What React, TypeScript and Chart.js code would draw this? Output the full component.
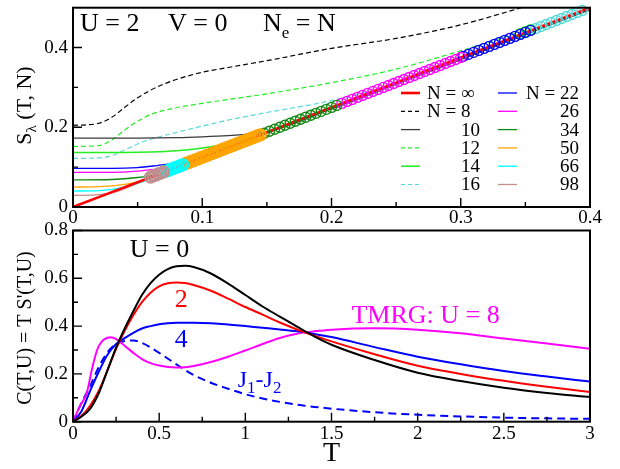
import React, { useEffect, useRef } from "react";
import { Chart, registerables } from "chart.js";
Chart.register(...registerables);

const SERIF = "'Liberation Serif', 'Times New Roman', Times, serif";

// ---------------- top panel : S_lambda(T, N) ----------------
const TOP_X_TICKS = [0, 0.1, 0.2, 0.3, 0.4];
const TOP_X_MINOR = [0.05, 0.15, 0.25, 0.35];
const TOP_Y_TICKS = [0, 0.2, 0.4];
const TOP_Y_MINOR = [0.1, 0.3];

const T_INF = [0, 0.05, 0.1, 0.15, 0.2, 0.25, 0.3, 0.35, 0.4];
const S_INF = [0, 0.062, 0.124, 0.187, 0.25, 0.312, 0.375, 0.437, 0.5];
const T_N8 = [0, 0.01, 0.02, 0.03, 0.04, 0.05, 0.06, 0.07, 0.08, 0.1, 0.12, 0.15, 0.2, 0.25, 0.3, 0.35];
const S_N8 = [0.205, 0.206, 0.21, 0.225, 0.25, 0.274, 0.293, 0.308, 0.32, 0.338, 0.35, 0.367, 0.398, 0.423, 0.457, 0.503];
const T_N10 = [0, 0.05, 0.08, 0.1, 0.12, 0.14, 0.15, 0.2, 0.25, 0.3, 0.35, 0.4];
const S_N10 = [0.173, 0.173, 0.174, 0.176, 0.179, 0.184, 0.188, 0.246, 0.308, 0.37, 0.433, 0.495];
const T_N12 = [0, 0.02, 0.03, 0.04, 0.05, 0.06, 0.08, 0.1, 0.15, 0.2, 0.25, 0.3, 0.35];
const S_N12 = [0.152, 0.154, 0.168, 0.193, 0.215, 0.232, 0.249, 0.26, 0.284, 0.312, 0.346, 0.392, 0.443];
const T_N14 = [0, 0.04, 0.06, 0.08, 0.1, 0.12, 0.14, 0.15];
const S_N14 = [0.137, 0.137, 0.138, 0.141, 0.148, 0.158, 0.172, 0.186];
const T_N16 = [0, 0.02, 0.03, 0.04, 0.05, 0.06, 0.08, 0.1, 0.12, 0.15, 0.2, 0.25, 0.3, 0.35, 0.4];
const S_N16 = [0.122, 0.123, 0.129, 0.143, 0.158, 0.17, 0.187, 0.203, 0.218, 0.237, 0.267, 0.31, 0.373, 0.437, 0.5];
const T_N22 = [0, 0.03, 0.05, 0.065, 0.08, 0.09, 0.1, 0.15, 0.2, 0.25, 0.3, 0.355];
const S_N22 = [0.097, 0.097, 0.099, 0.104, 0.11, 0.114, 0.124, 0.187, 0.25, 0.312, 0.375, 0.443];
const T_N26 = [0, 0.03, 0.05, 0.065, 0.08, 0.1, 0.15, 0.2, 0.25, 0.3];
const S_N26 = [0.087, 0.087, 0.09, 0.095, 0.101, 0.124, 0.187, 0.25, 0.312, 0.375];
const T_N34 = [0, 0.03, 0.05, 0.065, 0.075, 0.1, 0.15, 0.2];
const S_N34 = [0.068, 0.069, 0.074, 0.082, 0.093, 0.124, 0.187, 0.25];
const T_N50 = [0, 0.02, 0.04, 0.055, 0.065, 0.1, 0.145];
const S_N50 = [0.05, 0.051, 0.057, 0.067, 0.08, 0.124, 0.181];
const T_N66 = [0, 0.02, 0.04, 0.055, 0.065, 0.085];
const S_N66 = [0.04, 0.041, 0.05, 0.065, 0.08, 0.106];
const T_N98 = [0, 0.02, 0.035, 0.05, 0.06, 0.07];
const S_N98 = [0.029, 0.031, 0.04, 0.06, 0.075, 0.087];

// open-circle markers (converged part of each system size)
const TC98 = [0.06, 0.062, 0.064, 0.066, 0.068, 0.07];
const SC98 = [0.075, 0.078, 0.08, 0.083, 0.085, 0.088];
const TC66 = [0.071, 0.073, 0.075, 0.077, 0.079, 0.081, 0.083, 0.085];
const SC66 = [0.089, 0.091, 0.094, 0.096, 0.099, 0.101, 0.104, 0.106];
const TC50 = [0.087, 0.089, 0.091, 0.093, 0.095, 0.097, 0.099, 0.101, 0.103, 0.105, 0.107, 0.109, 0.111, 0.113, 0.115, 0.117, 0.119, 0.121, 0.123, 0.125, 0.127, 0.129, 0.131, 0.133, 0.135, 0.137, 0.139, 0.141, 0.143, 0.145];
const SC50 = [0.109, 0.111, 0.114, 0.116, 0.119, 0.121, 0.124, 0.126, 0.129, 0.131, 0.134, 0.136, 0.139, 0.141, 0.144, 0.146, 0.149, 0.151, 0.154, 0.156, 0.159, 0.161, 0.164, 0.166, 0.169, 0.171, 0.174, 0.176, 0.179, 0.181];
const TC34 = [0.148, 0.152, 0.156, 0.16, 0.164, 0.168, 0.172, 0.176, 0.18, 0.184, 0.188, 0.192, 0.196, 0.2, 0.204];
const SC34 = [0.185, 0.19, 0.195, 0.2, 0.205, 0.21, 0.215, 0.22, 0.225, 0.23, 0.235, 0.24, 0.245, 0.25, 0.255];
const TC26 = [0.208, 0.212, 0.216, 0.22, 0.224, 0.228, 0.232, 0.236, 0.24, 0.244, 0.248, 0.252, 0.256, 0.26, 0.264, 0.268, 0.272, 0.276, 0.28, 0.284, 0.288, 0.292, 0.296, 0.3];
const SC26 = [0.26, 0.265, 0.27, 0.275, 0.28, 0.285, 0.29, 0.295, 0.3, 0.305, 0.31, 0.315, 0.32, 0.325, 0.33, 0.335, 0.34, 0.345, 0.35, 0.355, 0.36, 0.365, 0.37, 0.375];
const TC22 = [0.302, 0.306, 0.31, 0.314, 0.318, 0.322, 0.326, 0.33, 0.334, 0.338, 0.342, 0.346, 0.35, 0.354];
const SC22 = [0.378, 0.383, 0.388, 0.393, 0.398, 0.403, 0.408, 0.413, 0.418, 0.423, 0.428, 0.433, 0.438, 0.443];
const TC12 = [0.346, 0.35, 0.354];
const SC12 = [0.435, 0.44, 0.445];
const TC16 = [0.358, 0.362, 0.366, 0.37, 0.374, 0.378, 0.382, 0.386, 0.39, 0.394];
const SC16 = [0.448, 0.453, 0.458, 0.463, 0.468, 0.473, 0.478, 0.483, 0.488, 0.493];

const LEGEND_COL1 = ["N = \u221e", "N = 8", "10", "12", "14", "16"];
const LEGEND_COL2 = ["N = 22", "26", "34", "50", "66", "98"];

// ---------------- bottom panel : C(T,U) ----------------
const BOT_X_TICKS = [0, 0.5, 1, 1.5, 2, 2.5, 3];
const BOT_X_MINOR = [0.25, 0.75, 1.25, 1.75, 2.25, 2.75];
const BOT_Y_TICKS = [0, 0.2, 0.4, 0.6, 0.8];
const BOT_Y_MINOR = [0.1, 0.3, 0.5, 0.7];

const T_U = [0, 0.05, 0.1, 0.15, 0.2, 0.25, 0.3, 0.35, 0.4, 0.45, 0.5, 0.55, 0.6, 0.65, 0.7, 0.8, 0.9, 1.0, 1.1, 1.2, 1.3, 1.4, 1.5, 1.75, 2.0, 2.25, 2.5, 2.75, 3.0];
const C_U0 = [0, 0.022, 0.055, 0.12, 0.215, 0.31, 0.39, 0.462, 0.53, 0.58, 0.615, 0.638, 0.65, 0.652, 0.647, 0.62, 0.578, 0.53, 0.482, 0.44, 0.398, 0.357, 0.322, 0.258, 0.205, 0.17, 0.142, 0.12, 0.103];
const C_U2 = [0, 0.025, 0.068, 0.13, 0.215, 0.305, 0.38, 0.445, 0.5, 0.54, 0.566, 0.579, 0.582, 0.58, 0.572, 0.548, 0.515, 0.48, 0.448, 0.415, 0.386, 0.36, 0.336, 0.282, 0.234, 0.2, 0.171, 0.146, 0.124];
const C_U4 = [0, 0.045, 0.13, 0.21, 0.28, 0.325, 0.35, 0.372, 0.39, 0.4, 0.408, 0.412, 0.414, 0.414, 0.414, 0.412, 0.407, 0.4, 0.393, 0.386, 0.378, 0.367, 0.354, 0.312, 0.272, 0.24, 0.212, 0.189, 0.168];
const T_U8 = [0, 0.04, 0.08, 0.11, 0.14, 0.17, 0.2, 0.22, 0.25, 0.3, 0.35, 0.4, 0.45, 0.5, 0.55, 0.6, 0.65, 0.7, 0.8, 0.9, 1.0, 1.1, 1.2, 1.3, 1.4, 1.5, 1.75, 2.0, 2.25, 2.5, 2.75, 3.0];
const C_U8 = [0, 0.065, 0.12, 0.22, 0.3, 0.338, 0.351, 0.353, 0.345, 0.318, 0.288, 0.262, 0.245, 0.235, 0.229, 0.227, 0.228, 0.233, 0.25, 0.272, 0.298, 0.325, 0.35, 0.368, 0.378, 0.385, 0.391, 0.385, 0.37, 0.348, 0.327, 0.305];
const T_J = [0, 0.05, 0.1, 0.15, 0.2, 0.25, 0.3, 0.35, 0.4, 0.5, 0.6, 0.7, 0.8, 0.9, 1.0, 1.1, 1.2, 1.3, 1.4, 1.6, 1.8, 2.0, 2.25, 2.5, 2.75, 3.0];
const C_J = [0, 0.08, 0.15, 0.23, 0.29, 0.325, 0.338, 0.34, 0.33, 0.288, 0.24, 0.195, 0.163, 0.138, 0.115, 0.097, 0.083, 0.071, 0.062, 0.048, 0.037, 0.029, 0.022, 0.017, 0.014, 0.012];

// ---------------- styles ----------------
const C_RED = "#ff0000";
const C_BLACK = "#000000";
const C_GREY = "#3a3a3a";
const C_GREEN = "#22ee22";
const C_TURQ = "#55d8d8";
const C_BLUE = "#0000ff";
const C_MAG = "#ff00ff";
const C_DKGREEN = "#118811";
const C_ORANGE = "#ffa500";
const C_CYAN = "#00ffff";
const C_ROSY = "#c09090";

const W = 620;
const TOP_H = 232;
const BOT_TOP = 222;
const BOT_H = 247;
const AREA_L = 73;
const AREA_R = 590;

const pts = (t: number[], v: number[]) => t.map((x, i) => ({ x, y: v[i] }));

type Part = { t: string; size: number; dy?: number };

function drawRuns(ctx: CanvasRenderingContext2D, x: number, y: number, parts: Part[], color: string) {
  ctx.fillStyle = color;
  ctx.textBaseline = "alphabetic";
  ctx.textAlign = "left";
  let cx = x;
  for (const p of parts) {
    ctx.font = `${p.size}px ${SERIF}`;
    ctx.fillText(p.t, cx, y + (p.dy || 0));
    cx += ctx.measureText(p.t).width;
  }
}

function drawRotated(ctx: CanvasRenderingContext2D, bx: number, cy: number, parts: Part[]) {
  ctx.save();
  ctx.translate(bx, cy);
  ctx.rotate(-Math.PI / 2);
  let w = 0;
  for (const p of parts) {
    ctx.font = `${p.size}px ${SERIF}`;
    w += ctx.measureText(p.t).width;
  }
  drawRuns(ctx, -w / 2, 0, parts, "#000");
  ctx.restore();
}

function axis(min: number, max: number, ticks: number[], isX: boolean, size: number, pad: number) {
  return {
    type: "linear" as const,
    min,
    max,
    grid: { display: false, drawTicks: false },
    border: { display: false },
    ticks: {
      font: { family: SERIF, size: 19 },
      color: "#000",
      padding: pad,
      autoSkip: false,
      maxRotation: 0,
      callback: (v: any) => String(v),
    },
    afterBuildTicks: (s: any) => {
      s.ticks = ticks.map((v) => ({ value: v }));
    },
    afterFit: (s: any) => {
      if (isX) {
        s.height = size;
        s.paddingLeft = 0;
        s.paddingRight = 0;
      } else {
        s.width = size;
        s.paddingTop = 0;
        s.paddingBottom = 0;
      }
    },
  };
}

function frameAndTicks(chart: any, xMaj: number[], xMin: number[], yMaj: number[], yMin: number[]) {
  const { ctx, chartArea: a, scales } = chart;
  const x = scales.x;
  const y = scales.y;
  ctx.save();
  ctx.strokeStyle = "#000";
  ctx.lineWidth = 1.4;
  ctx.setLineDash([]);
  ctx.beginPath();
  for (const v of xMaj) { const p = x.getPixelForValue(v); ctx.moveTo(p, a.bottom); ctx.lineTo(p, a.bottom - 9); }
  for (const v of xMin) { const p = x.getPixelForValue(v); ctx.moveTo(p, a.bottom); ctx.lineTo(p, a.bottom - 5); }
  for (const v of yMaj) { const p = y.getPixelForValue(v); ctx.moveTo(a.left, p); ctx.lineTo(a.left + 9, p); }
  for (const v of yMin) { const p = y.getPixelForValue(v); ctx.moveTo(a.left, p); ctx.lineTo(a.left + 5, p); }
  ctx.stroke();
  ctx.lineWidth = 2;
  ctx.strokeRect(a.left, a.top, a.right - a.left, a.bottom - a.top);
  ctx.restore();
}

function lineDs(t: number[], v: number[], color: string, width: number, dash: number[] = []) {
  return {
    data: pts(t, v),
    borderColor: color,
    backgroundColor: color,
    borderWidth: width,
    borderDash: dash,
    pointRadius: 0,
    fill: false,
    cubicInterpolationMode: "monotone" as const,
    order: 1,
  };
}

function circleDs(t: number[], v: number[], color: string, r: number, bw = 1.4) {
  return {
    data: pts(t, v),
    showLine: false,
    borderColor: color,
    backgroundColor: "rgba(0,0,0,0)",
    pointBorderColor: color,
    pointBackgroundColor: "rgba(0,0,0,0)",
    pointRadius: r,
    pointBorderWidth: bw,
    pointHoverRadius: r,
    clip: false as any,
    order: 0,
  };
}

const TOP_STYLES = [
  { c: C_RED, w: 2.6, d: [] as number[] },
  { c: C_BLACK, w: 1.2, d: [5, 3] },
  { c: C_GREY, w: 1.3, d: [] },
  { c: C_GREEN, w: 1.2, d: [5, 3] },
  { c: C_GREEN, w: 1.5, d: [] },
  { c: C_TURQ, w: 1.2, d: [5, 3] },
  { c: C_BLUE, w: 1.3, d: [] },
  { c: C_MAG, w: 1.3, d: [] },
  { c: C_DKGREEN, w: 1.3, d: [] },
  { c: C_ORANGE, w: 1.3, d: [] },
  { c: C_CYAN, w: 1.3, d: [] },
  { c: C_ROSY, w: 1.3, d: [] },
];

function buildTop(): any {
  const series: [number[], number[]][] = [
    [T_INF, S_INF], [T_N8, S_N8], [T_N10, S_N10], [T_N12, S_N12], [T_N14, S_N14], [T_N16, S_N16],
    [T_N22, S_N22], [T_N26, S_N26], [T_N34, S_N34], [T_N50, S_N50], [T_N66, S_N66], [T_N98, S_N98],
  ];
  const lines = series.map(([t, v], i) => lineDs(t, v, TOP_STYLES[i].c, TOP_STYLES[i].w, TOP_STYLES[i].d));
  const circles = [
    circleDs(TC98, SC98, C_ROSY, 5.5, 2.2),
    circleDs(TC66, SC66, C_CYAN, 5.5, 2.2),
    circleDs(TC50, SC50, C_ORANGE, 5.5, 2.2),
    circleDs(TC34, SC34, C_DKGREEN, 5),
    circleDs(TC26, SC26, C_MAG, 5),
    circleDs(TC22, SC22, C_BLUE, 5),
    circleDs(TC12, SC12, C_GREEN, 5),
    circleDs(TC16, SC16, C_TURQ, 5),
  ];
  const decor = {
    id: "decorTop",
    afterDatasetsDraw(chart: any) {
      const ctx = chart.ctx as CanvasRenderingContext2D;
      frameAndTicks(chart, TOP_X_TICKS, TOP_X_MINOR, TOP_Y_TICKS, TOP_Y_MINOR);
      ctx.save();
      // header
      drawRuns(ctx, 80, 31, [{ t: "U = 2", size: 26 }], "#000");
      drawRuns(ctx, 168, 31, [{ t: "V = 0", size: 26 }], "#000");
      drawRuns(ctx, 263, 31, [{ t: "N", size: 26 }, { t: "e", size: 17, dy: 7 }, { t: " = N", size: 26 }], "#000");
      // legend
      const rows = [93, 111.3, 129.6, 147.9, 166.2, 184.5];
      const cols = [
        { s0: 401, s1: 420, tl: 427, nr: 480, labels: LEGEND_COL1, off: 0 },
        { s0: 498, s1: 517, tl: 526, nr: 579, labels: LEGEND_COL2, off: 6 },
      ];
      for (const col of cols) {
        col.labels.forEach((lab, i) => {
          const st = TOP_STYLES[col.off + i];
          const yy = rows[i];
          ctx.beginPath();
          ctx.strokeStyle = st.c;
          ctx.lineWidth = st.w;
          ctx.setLineDash(st.d.length ? [4, 3] : []);
          ctx.moveTo(col.s0, yy);
          ctx.lineTo(col.s1, yy);
          ctx.stroke();
          ctx.setLineDash([]);
          ctx.font = `19px ${SERIF}`;
          ctx.fillStyle = "#000";
          ctx.textBaseline = "middle";
          if (lab.startsWith("N")) {
            ctx.textAlign = "left";
            ctx.fillText(lab, col.tl, yy + 1);
          } else {
            ctx.textAlign = "right";
            ctx.fillText(lab, col.nr, yy + 1);
          }
        });
      }
      // y title
      drawRotated(ctx, 31, 105.5, [
        { t: "S", size: 22 },
        { t: "\u03bb", size: 15, dy: 5 },
        { t: " (T, N)", size: 22 },
      ]);
      ctx.restore();
    },
  };
  return {
    type: "line",
    data: { datasets: [...circles, ...lines] },
    options: {
      animation: false,
      responsive: false,
      maintainAspectRatio: false,
      layout: { padding: { left: 0, right: W - AREA_R, top: 7, bottom: 0 } },
      plugins: { legend: { display: false }, tooltip: { enabled: false } },
      events: [],
      scales: {
        x: axis(0, 0.4, TOP_X_TICKS, true, TOP_H - 207, 0),
        y: axis(0, 0.5, TOP_Y_TICKS, false, AREA_L, 5),
      },
    },
    plugins: [decor],
  };
}

function buildBottom(): any {
  const datasets = [
    lineDs(T_U, C_U0, C_BLACK, 2),
    lineDs(T_U, C_U2, C_RED, 2),
    lineDs(T_U, C_U4, C_BLUE, 2),
    lineDs(T_U8, C_U8, C_MAG, 2),
    lineDs(T_J, C_J, C_BLUE, 2, [8, 5]),
  ];
  const decor = {
    id: "decorBot",
    afterDatasetsDraw(chart: any) {
      const ctx = chart.ctx as CanvasRenderingContext2D;
      const x = chart.scales.x;
      const y = chart.scales.y;
      frameAndTicks(chart, BOT_X_TICKS, BOT_X_MINOR, BOT_Y_TICKS, BOT_Y_MINOR);
      ctx.save();
      const at = (tv: number, cv: number) => [x.getPixelForValue(tv), y.getPixelForValue(cv)];
      let p = at(0.329, 0.689);
      drawRuns(ctx, p[0], p[1], [{ t: "U = 0", size: 26 }], C_BLACK);
      p = at(0.59, 0.48);
      drawRuns(ctx, p[0], p[1], [{ t: "2", size: 26 }], C_RED);
      p = at(0.59, 0.3125);
      drawRuns(ctx, p[0], p[1], [{ t: "4", size: 26 }], C_BLUE);
      p = at(1.616, 0.413);
      drawRuns(ctx, p[0], p[1], [{ t: "TMRG: U = 8", size: 26 }], C_MAG);
      p = at(0.956, 0.145);
      drawRuns(ctx, p[0], p[1], [
        { t: "J", size: 24 },
        { t: "1", size: 17, dy: 6 },
        { t: "-J", size: 24 },
        { t: "2", size: 17, dy: 6 },
      ], C_BLUE);
      // axis titles
      ctx.font = `28px ${SERIF}`;
      ctx.fillStyle = "#000";
      ctx.textAlign = "center";
      ctx.textBaseline = "alphabetic";
      ctx.fillText("T", (AREA_L + AREA_R) / 2, 461 - BOT_TOP);
      drawRotated(ctx, 31, 328 - BOT_TOP, [{ t: "C(T,U) = T S'(T,U)", size: 20 }]);
      ctx.restore();
    },
  };
  const areaTop = 230.5 - BOT_TOP;
  const areaBottom = 421.7 - BOT_TOP;
  return {
    type: "line",
    data: { datasets },
    options: {
      animation: false,
      responsive: false,
      maintainAspectRatio: false,
      layout: { padding: { left: 0, right: W - AREA_R, top: areaTop, bottom: 0 } },
      plugins: { legend: { display: false }, tooltip: { enabled: false } },
      events: [],
      scales: {
        x: axis(0, 3, BOT_X_TICKS, true, BOT_H - areaBottom, 1),
        y: axis(0, 0.8, BOT_Y_TICKS, false, AREA_L, 5),
      },
    },
    plugins: [decor],
  };
}

export default function App() {
  const topRef = useRef<HTMLCanvasElement>(null);
  const botRef = useRef<HTMLCanvasElement>(null);
  useEffect(() => {
    const c1 = new Chart(topRef.current as HTMLCanvasElement, buildTop());
    const c2 = new Chart(botRef.current as HTMLCanvasElement, buildBottom());
    return () => {
      c1.destroy();
      c2.destroy();
    };
  }, []);
  return (
    <div style={{ position: "fixed", left: 0, top: 0, width: W, height: 469, background: "#fff", overflow: "hidden" }}>
      <canvas
        ref={topRef}
        width={W}
        height={TOP_H}
        style={{ position: "absolute", left: 0, top: 0, width: W, height: TOP_H }}
      />
      <canvas
        ref={botRef}
        width={W}
        height={BOT_H}
        style={{ position: "absolute", left: 0, top: BOT_TOP, width: W, height: BOT_H }}
      />
    </div>
  );
}
